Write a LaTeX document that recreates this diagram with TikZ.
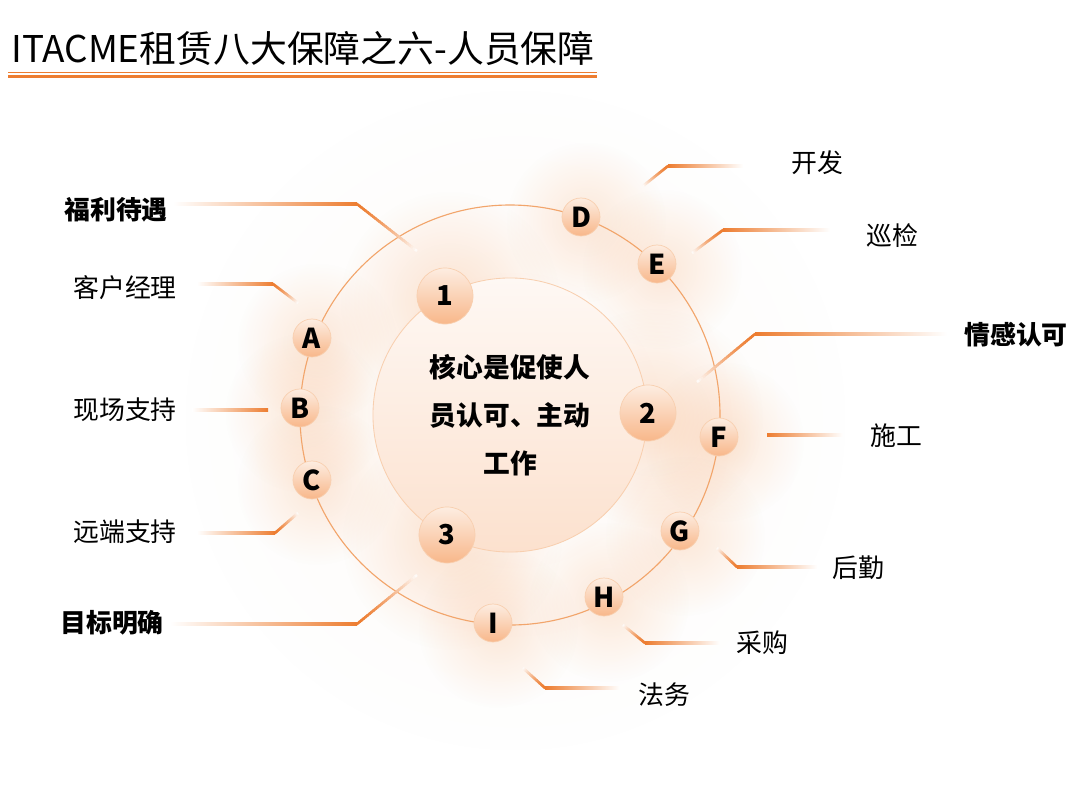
\documentclass[tikz,border=0pt]{standalone}
\usepackage{fontspec}
\setmainfont{Noto Sans CJK SC}
\usetikzlibrary{calc,fadings}
\definecolor{leadc}{HTML}{ED7D31}
\definecolor{ringc}{HTML}{F2A56B}
\definecolor{balltop}{HTML}{FDEDE1}
\definecolor{ballbot}{HTML}{F8B78A}
\definecolor{ballrim}{HTML}{F8CFAF}
\definecolor{coretop}{HTML}{FEF8F4}
\definecolor{corebot}{HTML}{FCE1CE}
\definecolor{glowc}{HTML}{F7A86E}
\tikzfading[name=glowfade, inner color=transparent!0, outer color=transparent!100]
\tikzset{
  ball/.style={circle, draw=ballrim, line width=.5pt, top color=balltop,
    bottom color=ballbot, inner sep=0pt, font=\bfseries\fontsize{19.5}{19.5}\selectfont},
  letter/.style={ball, minimum size=.95cm},
  num/.style={ball, minimum size=1.4cm},
  core/.style={circle, draw=ballrim, line width=.6pt, top color=coretop,
    bottom color=corebot, minimum size=6.85cm, align=center,
    font=\bfseries\fontsize{19}{34}\selectfont},
  lab/.style={font=\fontsize{18.4}{18.4}\selectfont},
  keylab/.style={font=\bfseries\fontsize{18.4}{18.4}\selectfont},
  leader/.style={line width=1.8pt},
  fadeL/.style={left color=white, middle color=leadc!75!white, right color=leadc},
  fadeR/.style={left color=leadc, middle color=leadc!75!white, right color=white},
}
% horizontal part: shaded strip, slanted part: short steps
\newcommand\hleg[3]{\shade[#3] ($(#1)+(0,-1.27)$) rectangle ($(#2)+(0,1.27)$);}
\newcommand\leg[2]{%
  \foreach \k in {0,...,29}{%
    \pgfmathsetmacro\ka{\k/30}\pgfmathsetmacro\kb{min(1,(\k+1.6)/30)}%
    \pgfmathtruncatemacro\kc{100*(1-(\k/30)^1.5)}%
    \draw[leader, leadc!\kc!white] ($(#1)!\ka!(#2)$) -- ($(#1)!\kb!(#2)$);}%
  \fill[leadc] (#1) circle[radius=0.9pt];}
\newcommand\glow[3]{\fill[glowc, path fading=glowfade, opacity=#3]
  ($(#1)+(5,5)$) circle[radius=#2];}

\begin{document}
\begin{tikzpicture}[x=0.025cm, y=-0.025cm]
  \fill[white] (0,0) rectangle (1080,810);
  \useasboundingbox (0,0) rectangle (1080,810);
  \node[anchor=west, inner sep=0pt, font=\fontsize{26.2}{26.2}\selectfont]
    (title) at (11,48) {ITACME租赁八大保障之六-人员保障};
  \draw[leadc, line width=.7pt] (8,72) -- (597,72);
  \draw[leadc, line width=1.8pt] (8,76.5) -- (597,76.5);

  \coordinate (o) at (510,415);
  \glow{o}{340}{.06}
  \foreach \n/\x/\y in {1/445/296, 2/648/413, 3/447/535}
    \glow{\x,\y}{110}{.3};
  \foreach \n/\x/\y in {A/312/338, B/300/408, C/312/480, D/581/217, E/657/264,
      F/719/437, G/680/531, H/604/597, I/493/623}
    \glow{\x,\y}{80}{.25};
  \draw[ringc, line width=.8pt] (o) circle[radius=210];
  \node[core] (core) at (o) {核心是促使人\\员认可、主动\\工作};

  \foreach \n/\sx/\sy/\kx/\ky/\ex/\ey/\f in {1/173/204/357/204/417/251/fadeL,
      A/197/284/273/284/298/303/fadeL, C/197/533/275/533/298/513/fadeL,
      3/170/624/357/624/417/575/fadeL, D/743/166/668/166/643/186/fadeR,
      E/830/230/723/230/692/253/fadeR, 2/947/334/755/334/697/382/fadeR,
      G/817/567/737/567/717/548/fadeR, H/720/643/645/643/623/625/fadeR,
      I/620/688/545/688/523/668/fadeR}{
    \coordinate (s\n) at (\sx,\sy);
    \coordinate (k\n) at (\kx,\ky);
    \coordinate (e\n) at (\ex,\ey);
    \hleg{s\n}{k\n}{\f}
    \leg{k\n}{e\n}
  }
  \coordinate (sB) at (192,410); \coordinate (kB) at (268,410);
  \coordinate (sF) at (843,435); \coordinate (kF) at (767,435);
  \hleg{sB}{kB}{fadeL}
  \hleg{kF}{sF}{fadeR}

  \foreach \n/\x/\y in {1/445/296, 2/648/413, 3/447/535}
    \node[num] (n\n) at (\x,\y) {\n};
  \foreach \n/\x/\y in {A/312/338, B/300/408, C/312/480, D/581/217, E/657/264,
      F/719/437, G/680/531, H/604/597, I/493/623}
    \node[letter] (\n) at (\x,\y) {\n};

  \foreach \n/\x/\y/\s/\t in {1/116/210/keylab/福利待遇, A/125/288/lab/客户经理,
      B/125/410/lab/现场支持, C/125/532/lab/远端支持, 3/112/623/keylab/目标明确,
      D/817/163/lab/开发, E/892/236/lab/巡检, 2/1016/335/keylab/情感认可,
      F/896/436/lab/施工, G/858/568/lab/后勤, H/762/643/lab/采购,
      I/664/695/lab/法务}
    \node[\s] (t\n) at (\x,\y) {\t};
\end{tikzpicture}
\end{document}
